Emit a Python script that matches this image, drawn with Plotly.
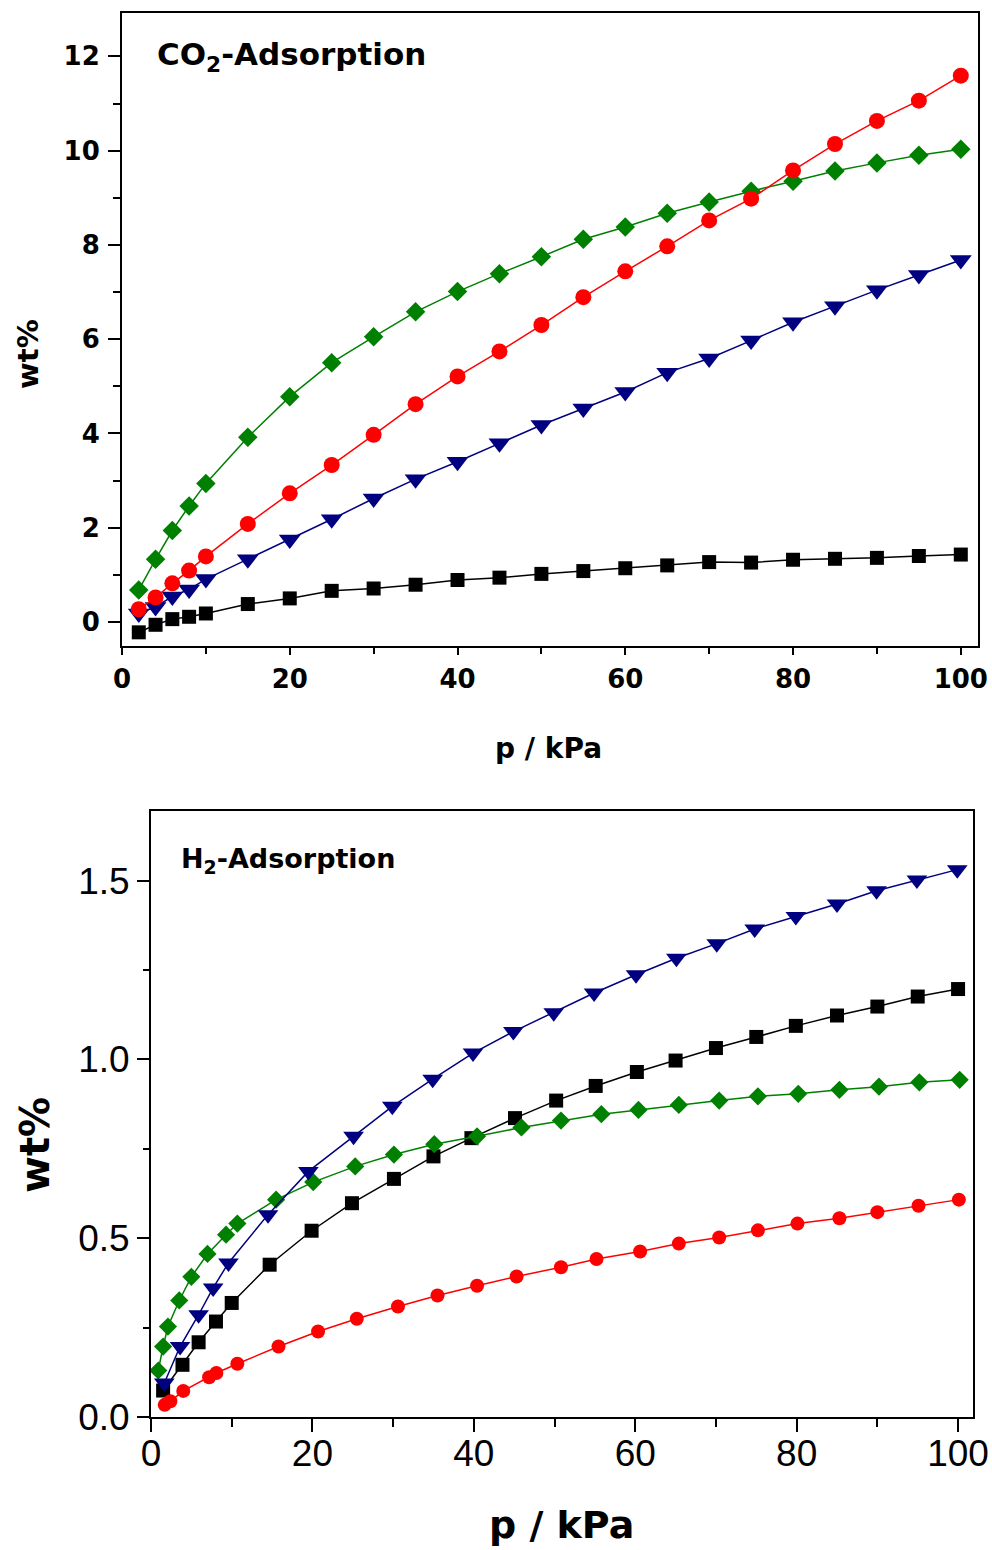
import plotly.graph_objects as go

# ---------------- CO2 adsorption (top panel) ----------------
co2_p = [2, 4, 6, 8, 10, 15, 20, 25, 30, 35, 40, 45, 50, 55, 60, 65, 70, 75, 80, 85, 90, 95, 100]
co2_black = [-0.22, -0.06, 0.06, 0.11, 0.18, 0.38, 0.50, 0.66, 0.71, 0.79, 0.89, 0.94, 1.02, 1.08,
             1.14, 1.20, 1.27, 1.26, 1.32, 1.34, 1.36, 1.40, 1.43]
co2_red = [0.27, 0.52, 0.82, 1.09, 1.39, 2.08, 2.73, 3.33, 3.97, 4.62, 5.21, 5.74, 6.30, 6.89,
           7.44, 7.97, 8.52, 8.98, 9.58, 10.14, 10.63, 11.06, 11.59]
co2_green = [0.68, 1.33, 1.94, 2.46, 2.94, 3.92, 4.78, 5.50, 6.05, 6.58, 7.01, 7.39, 7.75, 8.12,
             8.38, 8.67, 8.91, 9.14, 9.35, 9.57, 9.74, 9.90, 10.03]
co2_blue = [0.18, 0.32, 0.54, 0.69, 0.91, 1.33, 1.75, 2.18, 2.62, 3.03, 3.40, 3.79, 4.18, 4.53,
            4.88, 5.29, 5.59, 5.97, 6.36, 6.70, 7.04, 7.36, 7.68]

# ---------------- H2 adsorption (bottom panel) ----------------
h2_red_p = [1.7, 2.4, 4.0, 7.2, 8.1, 10.7, 15.8, 20.7, 25.5, 30.6, 35.5, 40.4, 45.3, 50.8, 55.2,
            60.6, 65.4, 70.4, 75.2, 80.1, 85.3, 90.0, 95.1, 100.1]
h2_red = [0.034, 0.044, 0.073, 0.111, 0.123, 0.149, 0.197, 0.239, 0.275, 0.309, 0.340, 0.367,
          0.393, 0.419, 0.442, 0.463, 0.485, 0.502, 0.522, 0.541, 0.556, 0.573, 0.591, 0.608]

h2_black_p = [1.5, 3.9, 5.9, 8.05, 10.0, 14.7, 19.9, 24.9, 30.1, 35.0, 39.7, 45.1, 50.2, 55.1,
              60.2, 65.0, 70.0, 75.0, 79.9, 85.0, 90.0, 95.0, 100.0]
h2_black = [0.074, 0.146, 0.209, 0.267, 0.319, 0.426, 0.521, 0.598, 0.666, 0.729, 0.780, 0.836,
            0.885, 0.926, 0.965, 0.997, 1.032, 1.063, 1.094, 1.123, 1.148, 1.176, 1.197]

h2_green_p = [0.9, 1.5, 2.1, 3.5, 5.0, 7.0, 9.3, 10.7, 15.5, 20.1, 25.3, 30.1, 35.1, 40.4, 45.9,
              50.8, 55.8, 60.4, 65.4, 70.4, 75.2, 80.2, 85.3, 90.2, 95.2, 100.2]
h2_green = [0.130, 0.197, 0.253, 0.326, 0.392, 0.456, 0.510, 0.541, 0.608, 0.657, 0.701, 0.734,
            0.763, 0.785, 0.810, 0.829, 0.847, 0.859, 0.873, 0.885, 0.897, 0.904, 0.915, 0.924,
            0.936, 0.943]

h2_blue_p = [1.65, 3.6, 5.9, 7.7, 9.6, 14.5, 19.5, 25.1, 29.9, 34.9, 39.9, 44.9, 49.9, 54.9,
             60.1, 65.1, 70.1, 74.8, 79.9, 85.0, 89.9, 94.9, 99.9]
h2_blue = [0.095, 0.197, 0.286, 0.361, 0.431, 0.566, 0.687, 0.785, 0.869, 0.945, 1.018, 1.078,
           1.131, 1.186, 1.237, 1.283, 1.324, 1.365, 1.400, 1.435, 1.472, 1.502, 1.531]

BLACK, RED, GREEN, BLUE = "#000000", "#FF0000", "#008000", "#000080"

W, H = 992, 1550


def px(x):
    return x / W


def py(y):
    return 1 - y / H


fig = go.Figure()

top_series = [
    (co2_p, co2_black, BLACK, "square", 14),
    (co2_p, co2_blue, BLUE, "triangle-down", 19),
    (co2_p, co2_green, GREEN, "diamond", 15),
    (co2_p, co2_red, RED, "circle", 16),
]
for xs, ys, c, sym, sz in top_series:
    fig.add_trace(go.Scatter(x=xs, y=ys, mode="lines+markers", xaxis="x", yaxis="y",
                             line=dict(color=c, width=1.5),
                             marker=dict(symbol=sym, size=sz, color=c, line=dict(width=0)),
                             cliponaxis=False, showlegend=False))

bot_series = [
    (h2_black_p, h2_black, BLACK, "square", 14),
    (h2_red_p, h2_red, RED, "circle", 14),
    (h2_green_p, h2_green, GREEN, "diamond", 14),
    (h2_blue_p, h2_blue, BLUE, "triangle-down", 18),
]
for xs, ys, c, sym, sz in bot_series:
    fig.add_trace(go.Scatter(x=xs, y=ys, mode="lines+markers", xaxis="x2", yaxis="y2",
                             line=dict(color=c, width=1.5),
                             marker=dict(symbol=sym, size=sz, color=c, line=dict(width=0)),
                             cliponaxis=False, showlegend=False))

bold_font = "DejaVu Sans"
axis_common = dict(showline=True, linecolor="black", linewidth=2, mirror=True,
                   showgrid=False, zeroline=False, ticks="outside", tickcolor="black",
                   tickwidth=1.5, automargin=False)

fig.update_layout(
    width=W, height=H,
    margin=dict(l=0, r=0, t=0, b=0),
    paper_bgcolor="white", plot_bgcolor="white",
    xaxis=dict(domain=[px(122), px(978)], anchor="y", range=[0, 102.05],
               tickmode="linear", tick0=0, dtick=20, ticklen=7,
               minor=dict(ticks="outside", dtick=10, ticklen=6, tickcolor="black", tickwidth=1.5),
               tickfont=dict(family=bold_font, size=26, color="black", weight="bold"),
               ticklabelstandoff=2, **axis_common),
    yaxis=dict(domain=[py(646), py(13)], anchor="x", range=[-0.51, 12.92],
               tickmode="linear", tick0=0, dtick=2, ticklen=12,
               minor=dict(ticks="outside", dtick=1, ticklen=7, tickcolor="black", tickwidth=1.5),
               tickfont=dict(family=bold_font, size=26, color="black", weight="bold"),
               ticklabelstandoff=3, **axis_common),
    xaxis2=dict(domain=[px(151), px(973)], anchor="y2", range=[0, 101.85],
                tickmode="linear", tick0=0, dtick=20, ticklen=13,
                minor=dict(ticks="outside", dtick=10, ticklen=8, tickcolor="black", tickwidth=1.5),
                tickfont=dict(family="Liberation Sans", size=37, color="black"),
                ticklabelstandoff=-10, **axis_common),
    yaxis2=dict(domain=[py(1417), py(811)], anchor="x2", range=[0, 1.695],
                tickmode="linear", tick0=0, dtick=0.5, tickformat=".1f", ticklen=12,
                minor=dict(ticks="outside", dtick=0.25, ticklen=6, tickcolor="black", tickwidth=1.5),
                tickfont=dict(family="Liberation Sans", size=37, color="black"),
                ticklabelstandoff=0, **axis_common),
)

annotations = [
    dict(text="<b>CO<sub>2</sub>-Adsorption</b>", x=px(155), y=py(57), xanchor="left", yanchor="middle",
         font=dict(family=bold_font, size=31, color="black")),
    dict(text="<b>p / kPa</b>", x=px(548), y=py(748), xanchor="center", yanchor="middle",
         font=dict(family=bold_font, size=28, color="black")),
    dict(text="<b>wt%</b>", x=px(28), y=py(354), xanchor="center", yanchor="middle", textangle=-90,
         font=dict(family=bold_font, size=29, color="black")),
    dict(text="<b>H<sub>2</sub>-Adsorption</b>", x=px(179), y=py(860), xanchor="left", yanchor="middle",
         font=dict(family=bold_font, size=27, color="black")),
    dict(text="<b>p / kPa</b>", x=px(561), y=py(1525), xanchor="center", yanchor="middle",
         font=dict(family=bold_font, size=38, color="black")),
    dict(text="<b>wt%</b>", x=px(35), y=py(1145), xanchor="center", yanchor="middle", textangle=-90,
         font=dict(family=bold_font, size=40, color="black")),
]
for a in annotations:
    a.update(xref="paper", yref="paper", showarrow=False)
fig.update_layout(annotations=annotations)

fig.write_html(
    "out.html",
    config={"displayModeBar": False},
    post_script="document.body.style.margin='0px';document.body.style.overflow='hidden';",
)
